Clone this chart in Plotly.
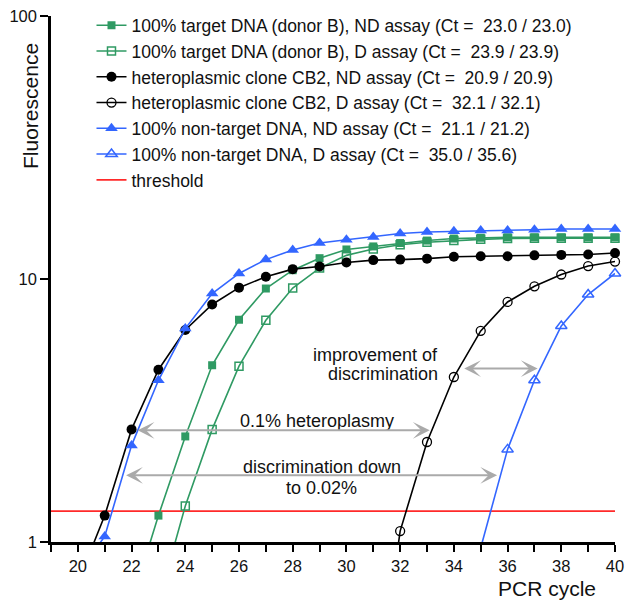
import plotly.graph_objects as go

# ---------------- data ----------------
cycles = list(range(20, 41))

target_nd = [None, None, 0.59, 1.26, 2.52, 4.70, 7.00, 9.20, 10.8, 12.0, 12.95,
             13.3, 13.7, 14.0, 14.25, 14.35, 14.4, 14.4, 14.4, 14.4, 14.4]
target_d = [None, None, None, 0.59, 1.37, 2.68, 4.66, 6.97, 9.24, 11.0, 12.3,
            13.0, 13.5, 13.8, 14.0, 14.15, 14.25, 14.3, 14.3, 14.3, 14.3]
clone_nd = [0.70, 1.26, 2.68, 4.52, 6.40, 8.00, 9.27, 10.2, 10.9, 11.15, 11.55,
            11.8, 11.85, 11.95, 12.15, 12.2, 12.2, 12.3, 12.35, 12.4, 12.55]
clone_d = [None] * 11 + [0.2, 1.10, 2.40, 4.24, 6.35, 8.18, 9.38, 10.4, 11.2, 11.65]
nontarget_nd = [0.76, 1.05, 2.33, 4.12, 6.48, 8.80, 10.5, 11.85, 12.9, 13.7, 14.1,
                14.45, 14.9, 15.1, 15.2, 15.3, 15.3, 15.4, 15.5, 15.5, 15.5]
nontarget_d = [None] * 15 + [0.95, 2.25, 4.12, 6.63, 8.73, 10.5]

threshold_value = 1.31
threshold_x = [19, 40]

names = [
    "100% target DNA (donor B), ND assay (Ct =  23.0 / 23.0)",
    "100% target DNA (donor B), D assay (Ct =  23.9 / 23.9)",
    "heteroplasmic clone CB2, ND assay (Ct =  20.9 / 20.9)",
    "heteroplasmic clone CB2, D assay (Ct =  32.1 / 32.1)",
    "100% non-target DNA, ND assay (Ct =  21.1 / 21.2)",
    "100% non-target DNA, D assay (Ct =  35.0 / 35.6)",
    "threshold",
]

x_tickvals = [20, 22, 24, 26, 28, 30, 32, 34, 36, 38, 40]
y_tickvals = [1, 10, 100]

# ---------------- style ----------------
FONT = "Liberation Sans, Arial, Helvetica, sans-serif"
GREEN = "#2f9a63"
BLACK = "#000000"
BLUE = "#3366ff"
RED = "#ff2a2a"
GREY = "#aaaaaa"

series = [
    (target_nd, names[0], GREEN, "square", 8, 0),
    (target_d, names[1], GREEN, "square-open", 8, 1.5),
    (clone_nd, names[2], BLACK, "circle", 10, 0),
    (clone_d, names[3], BLACK, "circle-open", 9, 1.3),
    (nontarget_nd, names[4], BLUE, "triangle-up", 11, 0),
    (nontarget_d, names[5], BLUE, "triangle-up-open", 10, 1.5),
]

fig = go.Figure()

fig.add_trace(go.Scatter(
    x=threshold_x, y=[threshold_value] * len(threshold_x), mode="lines",
    name=names[6], line=dict(color=RED, width=1.8), legendrank=2000,
    hoverinfo="skip",
))

for i, (vals, nm, col, sym, sz, lw) in enumerate(series):
    fig.add_trace(go.Scatter(
        x=cycles, y=vals, mode="lines+markers", name=nm,
        line=dict(color=col, width=1.6),
        marker=dict(symbol=sym, size=sz, color=col,
                    line=dict(color=col, width=lw)),
        cliponaxis=False, connectgaps=False, legendrank=1000 + i,
    ))

annotations = []
# axis titles
annotations.append(dict(text="Fluorescence", xref="paper", yref="paper",
                        x=-0.0354, y=0.829, xanchor="center", yanchor="middle",
                        textangle=-90, showarrow=False,
                        font=dict(size=21, color="#111", family=FONT)))
annotations.append(dict(text="PCR cycle", xref="paper", yref="paper",
                        x=0.8795, y=-0.088, xanchor="center", yanchor="middle",
                        showarrow=False,
                        font=dict(size=21, color="#111", family=FONT)))

# text labels (x in data units, y in log10 units)
txt_font = dict(size=18, color="#111", family=FONT)
annotations += [
    dict(text="improvement of", x=33.47, y=0.71, xanchor="right", showarrow=False, font=txt_font),
    dict(text="discrimination", x=33.47, y=0.6376, xanchor="right", showarrow=False, font=txt_font),
    dict(text="0.1% heteroplasmy", x=28.91, y=0.4608, showarrow=False, font=txt_font),
    dict(text="discrimination down", x=29.08, y=0.2852, showarrow=False, font=txt_font),
    dict(text="to 0.02%", x=29.08, y=0.2061, showarrow=False, font=txt_font),
]

# double-headed arrows
for (x0, x1, yl) in [(34.33, 37.12, 0.6593), (22.17, 33.10, 0.4247), (21.74, 35.61, 0.2536)]:
    annotations.append(dict(
        text="", x=x1, y=yl, ax=x0, ay=yl, xref="x", yref="y", axref="x", ayref="y",
        showarrow=True, arrowside="end+start", arrowhead=3, startarrowhead=3,
        arrowsize=1.4, startarrowsize=1.4, arrowwidth=2, arrowcolor=GREY,
        standoff=0, startstandoff=0,
    ))

fig.update_layout(
    width=626, height=600,
    margin=dict(l=51, r=11, t=16, b=58, autoexpand=False),
    paper_bgcolor="white", plot_bgcolor="white",
    font=dict(family=FONT, color="#111", size=16),
    showlegend=True,
    legend=dict(x=0.0718, y=1.0163, xanchor="left", yanchor="top",
                bgcolor="rgba(0,0,0,0)", font=dict(size=17.5, family=FONT, color="#111"),
                itemwidth=30, traceorder="normal"),
    annotations=annotations,
    xaxis=dict(range=[19, 40], tickvals=x_tickvals, ticks="outside", ticklen=7,
               tickwidth=2, tickcolor="black", showline=True, linewidth=2.5,
               linecolor="black", showgrid=False, zeroline=False, automargin=False,
               tickfont=dict(size=16.5, family=FONT, color="#111"),
               minor=dict(dtick=1, tick0=19, ticks="outside", ticklen=7, tickwidth=2,
                          tickcolor="black", showgrid=False)),
    yaxis=dict(type="log", range=[0, 2], tickvals=y_tickvals, ticktext=["1", "10", "100"],
               ticks="outside", ticklen=8, tickwidth=2, tickcolor="black",
               showline=True, linewidth=2.5, linecolor="black", showgrid=False,
               zeroline=False, automargin=False,
               tickfont=dict(size=16.5, family=FONT, color="#111")),
)

fig.write_html("out.html",
               config={"displayModeBar": False},
               post_script="document.body.style.margin='0';document.body.style.overflow='hidden';")
